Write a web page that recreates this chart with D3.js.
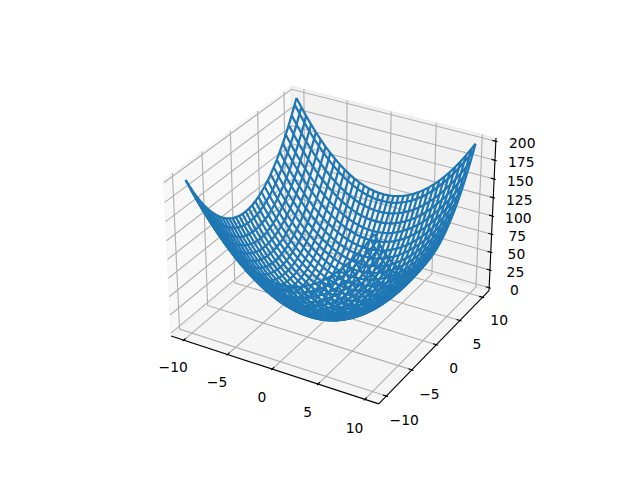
<!DOCTYPE html>
<html><head><meta charset="utf-8"><script src="https://cdn.jsdelivr.net/npm/d3@7"></script>
<style>html,body{margin:0;background:#fff}svg{display:block}</style></head><body><svg id="c" width="640" height="480"></svg>
<script>
const gridX=[-10,-9.44,-8.88,-8.32,-7.76,-7.2,-6.64,-6.08,-5.52,-4.96,-4.4,-3.84,-3.28,-2.72,-2.16,-1.6,-1.04,-0.48,0.08,0.64,1.2,1.76,2.32,2.88,3.44,4,4.56,5.12,5.68,6.24,6.8,7.36,7.92,8.48,9.04,9.6,10];
const heightAlongX=[100,89.11,78.85,69.22,60.22,51.84,44.09,36.97,30.47,24.6,19.36,14.75,10.76,7.4,4.67,2.56,1.08,0.23,0.01,0.41,1.44,3.1,5.38,8.29,11.83,16,20.79,26.21,32.26,38.94,46.24,54.17,62.73,71.91,81.72,92.16,100];
const gridY=[-10,-9.41,-8.81,-8.22,-7.62,-7.03,-6.43,-5.84,-5.24,-4.65,-4.05,-3.46,-2.86,-2.27,-1.67,-1.08,-0.48,0.12,0.71,1.31,1.9,2.5,3.09,3.69,4.28,4.88,5.47,6.07,6.66,7.26,7.85,8.45,9.04,9.64,10];
const heightAlongY=[100,88.55,77.62,67.57,58.06,49.42,41.34,34.11,27.46,21.62,16.4,11.97,8.18,5.15,2.79,1.17,0.23,0.01,0.5,1.72,3.61,6.25,9.55,13.62,18.32,23.81,29.92,36.84,44.36,52.71,61.62,71.4,81.72,92.93,100];
const xTicks=[-10,-5,0,5,10],yTicks=[-10,-5,0,5,10],zTicks=[0,25,50,75,100,125,150,175,200];
const xLim=[-11,11],yLim=[-11,11],zLim=[0,200];
const surfaceZ=heightAlongY.map(hy=>heightAlongX.map(hx=>hx+hy));
const k=1.8294640721620434/Math.hypot(4,4,3);const bx=4*k,by=4*k,bz=3*k;
const sx=d3.scaleLinear().domain(xLim).range([0,bx]),sy=d3.scaleLinear().domain(yLim).range([0,by]),sz=d3.scaleLinear().domain(zLim).range([0,bz]);
const el=30*Math.PI/180,az=-60*Math.PI/180,dist=10;
const w=[Math.cos(el)*Math.cos(az),Math.cos(el)*Math.sin(az),Math.sin(el)];
const cross=(a,b)=>[a[1]*b[2]-a[2]*b[1],a[2]*b[0]-a[0]*b[2],a[0]*b[1]-a[1]*b[0]];
const dot=(a,b)=>a[0]*b[0]+a[1]*b[1]+a[2]*b[2];
let u=cross([0,0,1],w);const ul=Math.hypot(...u);u=u.map(d=>d/ul);const v=cross(w,u);
const eye=[bx/2+dist*w[0],by/2+dist*w[1],bz/2+dist*w[2]];
const px=d3.scaleLinear().domain([-0.095,0.09]).range([143.2,512.8]),py=d3.scaleLinear().domain([-0.095,0.09]).range([427.2,57.6]);
function proj(p){const q=[sx(p[0])-eye[0],sy(p[1])-eye[1],sz(p[2])-eye[2]];const d=-dot(w,q);return [px(dot(u,q)/d),py(dot(v,q)/d)];}
const svg=d3.select('#c');const line=d3.line();
const dx=(xLim[1]-xLim[0])/12,dy=(yLim[1]-yLim[0])/12,dz=(zLim[1]-zLim[0])/12;
const x0=xLim[0]-dx/4,x1=xLim[1]+dx/4,y0=yLim[0]-dy/4,y1=yLim[1]+dy/4,z0=zLim[0]-dz/4,z1=zLim[1]+dz/4;
function poly(pts,c){svg.append('path').attr('d',line(pts.map(proj))+'Z').attr('fill',`rgb(${c},${c},${c})`).attr('fill-opacity',.5).attr('stroke',`rgb(${c},${c},${c})`).attr('stroke-opacity',.5).attr('stroke-width',1.39);}
poly([[x0,y0,z0],[x0,y1,z0],[x0,y1,z1],[x0,y0,z1]],242);
poly([[x0,y1,z0],[x1,y1,z0],[x1,y1,z1],[x0,y1,z1]],230);
poly([[x0,y0,z0],[x1,y0,z0],[x1,y1,z0],[x0,y1,z0]],236);
function seg(pts,col,lw){svg.append('path').attr('d',line(pts.map(proj))).attr('fill','none').attr('stroke',col).attr('stroke-width',lw);}
const gc='#b0b0b0';
xTicks.forEach(t=>seg([[t,y0,z0],[t,y1,z0],[t,y1,z1]],gc,1.11));
yTicks.forEach(t=>seg([[x1,t,z0],[x0,t,z0],[x0,t,z1]],gc,1.11));
zTicks.forEach(t=>seg([[x1,y1,t],[x0,y1,t],[x0,y0,t]],gc,1.11));
seg([[x0,y0,z0],[x1,y0,z0]],'#000',1.11);seg([[x1,y0,z0],[x1,y1,z0]],'#000',1.11);seg([[x1,y1,z0],[x1,y1,z1]],'#000',1.11);
const lab=(3.5+8)*48/(2*72*3.696);
function txt(p,s){const q=proj(p);svg.append('text').attr('x',q[0]).attr('y',q[1]+5.5).attr('dy','0.36em').attr('text-anchor','middle').attr('font-family','DejaVu Sans').attr('font-size','13.89px').attr('fill','#000').text(String(s).replace('-','\u2212'));}
xTicks.forEach(t=>{seg([[t,y0-.1*dy,z0],[t,y0+.2*dy,z0]],'#000',1.11);txt([t,y0-lab*dy,z0-lab*dz],t);});
yTicks.forEach(t=>{seg([[x1+.1*dx,t,z0],[x1-.2*dx,t,z0]],'#000',1.11);txt([x1+lab*dx,t,z0-lab*dz],t);});
zTicks.forEach(t=>{seg([[x1+.1*dx,y1,t],[x1-.2*dx,y1,t]],'#000',1.11);txt([x1+lab*dx,y1+lab*dy,t],t);});
const wire=svg.append('g').attr('fill','none').attr('stroke','#1f77b4').attr('stroke-width',2.25).attr('stroke-linejoin','round');
surfaceZ.forEach((row,j)=>wire.append('path').attr('d',line(row.map((z,i)=>proj([gridX[i],gridY[j],z])))));
gridX.forEach((x,i)=>wire.append('path').attr('d',line(gridY.map((y,j)=>proj([x,y,surfaceZ[j][i]])))));
</script></body></html>
